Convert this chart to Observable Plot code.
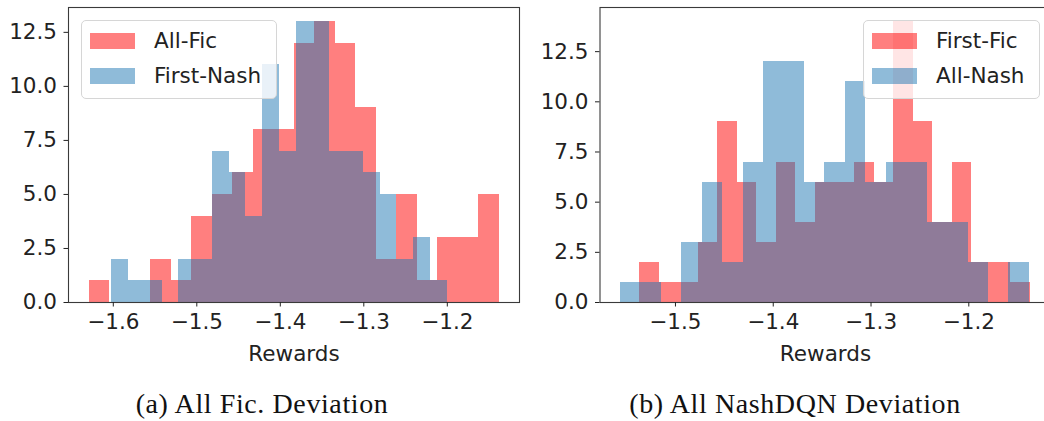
<!DOCTYPE html>
<html>
<head>
<meta charset="utf-8">
<script src="https://cdn.jsdelivr.net/npm/d3@7"></script>
<script src="https://cdn.jsdelivr.net/npm/@observablehq/plot@0.6"></script>
<style>
  html, body { margin: 0; padding: 0; background: #fff; }
  body { width: 1044px; height: 421px; overflow: hidden; position: relative; font-family: "DejaVu Sans", sans-serif; }
  .panel { position: absolute; top: 0; }
  .panel svg { max-width: none !important; }
  .legend { position: absolute; box-sizing: border-box; border: 1px solid #d6d6d6; border-radius: 5px; background: rgba(255,255,255,0.8); }
  .patch { position: absolute; width: 45px; height: 16px; }
  .lab { position: absolute; font-family: "DejaVu Sans"; font-size: 21.5px; color: #222; line-height: 1; white-space: nowrap; }
  .caption { position: absolute; font-family: "Liberation Serif", serif; font-size: 28px; color: #111; white-space: nowrap; letter-spacing: 0.6px; transform: translateX(-50%); }
</style>
</head>
<body>
<div id="a" class="panel" style="left:0px; width:522px"></div>
<div id="b" class="panel" style="left:522px; width:532px"></div>
<div id="legA" class="legend" style="left:81px; top:20px; width:196px; height:79px;"></div>
<div id="legB" class="legend" style="left:863px; top:20px; width:177px; height:79px;"></div>
<div class="caption" style="left:262px; top:388px;">(a) All Fic. Deviation</div>
<div class="caption" style="left:795px; top:388px;">(b) All NashDQN Deviation</div>
<script>
// ---- Data (bin counts; 20 equal bins between each series' min and max) ----
const seriesNamesA = ["All-Fic", "First-Nash"];
const allFicCounts    = [1,0,0,2,1,4,5,6,8,8,12,13,12,9,2,5,1,3,3,5];
const allFicRange     = [-1.6291, -1.1381];
const firstNashCounts = [2,1,1,0,2,2,7,6,4,11,7,13,13,7,7,6,5,2,3,1];
const firstNashRange  = [-1.6019, -1.2000];
const xTicksA = [-1.6, -1.5, -1.4, -1.3, -1.2];

const seriesNamesB = ["First-Fic", "All-Nash"];
const firstFicCounts = [2,1,1,3,9,6,3,7,4,6,6,7,6,14,9,4,7,2,2,1];
const firstFicRange  = [-1.5368, -1.1369];
const allNashCounts  = [1,1,0,3,6,2,7,12,12,6,7,11,6,7,7,4,4,2,0,2];
const allNashRange   = [-1.5562, -1.1380];
const xTicksB = [-1.5, -1.4, -1.3, -1.2];

const yTicks = [0, 2.5, 5.0, 7.5, 10.0, 12.5];
const xLabel = "Rewards";
const colors = ["#ff0000", "#1f77b4"];

function bins(counts, range) {
  const [lo, hi] = range;
  const w = (hi - lo) / counts.length;
  return counts.map((c, i) => ({x1: lo + i * w, x2: lo + (i + 1) * w, y: c}));
}

function panel({redCounts, redRange, blueCounts, blueRange, xTicks, width, marginLeft, marginRight}) {
  const lo = Math.min(redRange[0], blueRange[0]);
  const hi = Math.max(redRange[1], blueRange[1]);
  const pad = (hi - lo) * 0.05;
  const ymax = Math.max(...redCounts, ...blueCounts) * 1.05;
  const fmt = d3.format(".1f");
  return Plot.plot({
    width, height: 380,
    marginLeft, marginRight, marginTop: 7, marginBottom: 78,
    style: {fontFamily: "DejaVu Sans", fontSize: "21.5px", color: "#222", background: "transparent", maxWidth: "none"},
    x: {domain: [lo - pad, hi + pad]},
    y: {domain: [0, ymax]},
    marks: [
      Plot.rectY(bins(redCounts, redRange), {x1: "x1", x2: "x2", y: "y", fill: colors[0], fillOpacity: 0.5, inset: 0, shapeRendering: "crispEdges"}),
      Plot.rectY(bins(blueCounts, blueRange), {x1: "x1", x2: "x2", y: "y", fill: colors[1], fillOpacity: 0.5, inset: 0, shapeRendering: "crispEdges"}),
      Plot.frame({stroke: "#3a3a3a", strokeWidth: 1.1}),
      Plot.axisX({ticks: xTicks, tickFormat: fmt, tickSize: 4.5, tickPadding: 7, stroke: "#222",
                  label: xLabel, labelAnchor: "center", labelArrow: "none", labelOffset: 58, fontSize: 21.5}),
      Plot.axisY({ticks: yTicks, tickFormat: fmt, tickSize: 4.5, tickPadding: 7, stroke: "#222", label: null, fontSize: 21.5})
    ]
  });
}

document.getElementById("a").append(panel({
  redCounts: allFicCounts, redRange: allFicRange,
  blueCounts: firstNashCounts, blueRange: firstNashRange,
  xTicks: xTicksA, width: 522, marginLeft: 68, marginRight: 3
}));
document.getElementById("b").append(panel({
  redCounts: firstFicCounts, redRange: firstFicRange,
  blueCounts: allNashCounts, blueRange: allNashRange,
  xTicks: xTicksB, width: 532, marginLeft: 77.5, marginRight: 3.5
}));

function legend(id, names) {
  const el = document.getElementById(id);
  names.forEach((n, i) => {
    const top = 12 + i * 35;
    const p = document.createElement("div");
    p.className = "patch";
    p.style.left = "8px"; p.style.top = top + "px";
    p.style.background = colors[i]; p.style.opacity = 0.5;
    el.append(p);
    const t = document.createElement("div");
    t.className = "lab";
    t.style.left = "72px"; t.style.top = (top - 3) + "px";
    t.textContent = n;
    el.append(t);
  });
}
legend("legA", seriesNamesA);
legend("legB", seriesNamesB);
</script>
</body>
</html>
